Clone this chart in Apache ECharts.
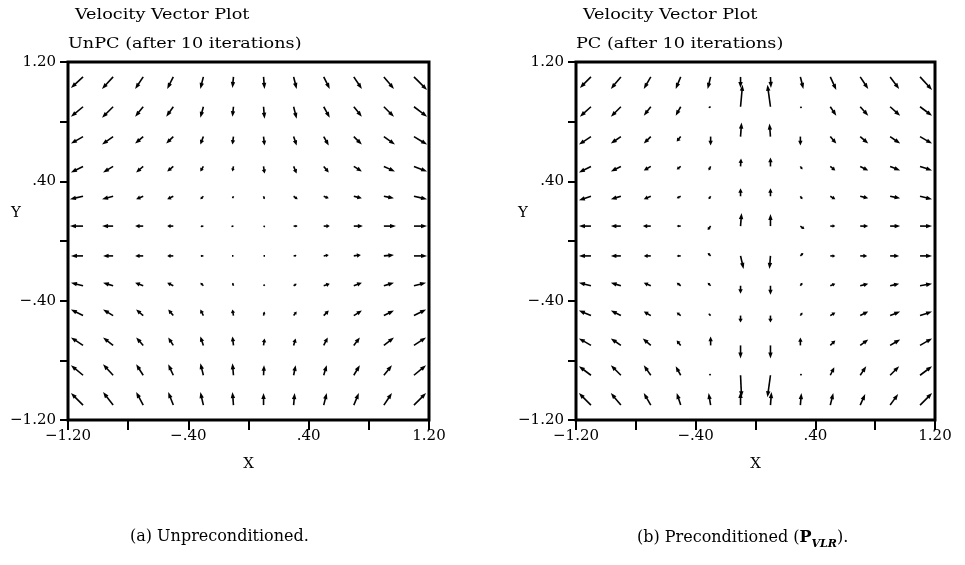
<!DOCTYPE html>
<html><head><meta charset="utf-8">
<script src="https://cdn.jsdelivr.net/npm/echarts@6/dist/echarts.min.js"></script>
<style>html,body{margin:0;padding:0;background:#fff}#c{width:965px;height:565px}</style>
</head><body><div id="c"></div>
<script>
// grid points (tails of the vectors)
const gridX = [-1.1,-0.9,-0.7,-0.5,-0.3,-0.1,0.1,0.3,0.5,0.7,0.9,1.1];
const gridY = [1.1,0.9,0.7,0.5,0.3,0.1,-0.1,-0.3,-0.5,-0.7,-0.9,-1.1];
// tick labels
const tickValues = [-1.2,-0.4,0.4,1.2];
const tickLabels = ['\u22121.20','\u2212.40','.40','1.20'];
// UnPC velocity components (rows top->bottom, cols left->right)
const unpcU = [
 [-12,-11,-8,-6,-3,-1,1,3,6,8,10,13],
 [-12,-11,-8,-7,-3,-1,1,3,6,8,10,13],
 [-12,-11,-8,-7,-3,-1,1,3,5,8,11,13],
 [-12,-10,-7,-6,-3,-1,1,3,5,8,11,13],
 [-13,-11,-7,-6,-3,-1,1,4,5,8,10,13],
 [-13,-11,-8,-6,-3,-2,1,4,6,9,12,13],
 [-12,-10,-8,-6,-3,-1,1,3,5,7,10,13],
 [-12,-10,-8,-6,-3,-1,1,3,6,8,10,12],
 [-12,-10,-7,-5,-3,-1,1,3,5,8,10,12],
 [-12,-10,-7,-5,-3,-1,1,2,4,6,10,12],
 [-12,-10,-7,-5,-3,-1,0.5,2,3,6,8,12],
 [-12,-10,-7,-5,-3,-1,0,1,3,5,8,12]
];
const unpcV = [
 [-11,-12,-12,-12,-12,-11,-12,-12,-12,-12,-12,-13],
 [-10,-11,-10,-10,-11,-10,-12,-12,-11,-10,-10,-10],
 [-7,-8,-7,-7,-8,-8,-9,-9,-9,-8,-8,-8],
 [-6,-6,-6,-5,-5,-5,-7,-7,-6,-5,-5,-5],
 [-3,-3,-3,-3,-3,-2,-3,-3,-2,-2,-2,-3],
 [0,0,0,0,-0.5,-0.5,-0.5,0,0,0,0,0],
 [0,0,0,0,0,0,0,0.5,1,1,1,0],
 [3,3,3,3,3,3,1,2,2,3,3,3],
 [6,6,6,6,6,6,4,4,5,5,5,6],
 [8,8,8,8,9,9,7,7,8,8,8,8],
 [10,11,11,11,12,12,10,10,10,10,10,10],
 [12,13,13,13,13,13,12,12,12,12,12,12]
];
// PC velocity components
const pcU = [
 [-11,-10,-7,-5,-3,0,0.5,3,6,8,9,12],
 [-11,-10,-7,-5,-2,2,-3,1,6,8,10,12],
 [-12,-10,-7,-4,0,1,-1,0,6,8,10,12],
 [-12,-10,-7,-4,-2,0.5,0,2,5,8,10,12],
 [-12,-10,-7,-4,-2,0,0,2,5,8,10,12],
 [-12,-10,-8,-4,-3,1,0,4,5,8,10,12],
 [-12,-10,-7,-4,-3,3,-1,3,5,7,9,12],
 [-12,-10,-7,-4,-3,0,0,2,5,8,9,12],
 [-12,-10,-7,-4,-2,0,0,2,5,8,10,12],
 [-12,-10,-8,-4,0,0,0,0,5,8,10,12],
 [-12,-10,-7,-5,-1,1,-3,1,4,6,9,12],
 [-12,-10,-7,-4,-2,0,1,1,3,5,8,12]
];
const pcV = [
 [-11,-12,-12,-12,-12,-11,-11,-12,-13,-12,-12,-13],
 [-10,-10,-9,-9,-1,22,22,-1,-9,-9,-9,-9],
 [-8,-7,-7,-5,-9,14,13,-9,-7,-7,-7,-7],
 [-6,-5,-4,-3,-4,8,9,-3,-4,-4,-4,-4],
 [-4,-3,-3,-2,-3,8,8,-3,-3,-2,-2,-3],
 [0,0,0,0,-4,13,12,-3,0,0,0,0],
 [0,0,0,0,3,-13,-13,3,0,0,0,0],
 [3,3,3,3,3,-8,-9,3,2,2,2,2],
 [5,5,4,3,2,-7,-7,3,3,4,4,4],
 [7,7,7,5,9,-13,-13,8,5,6,6,7],
 [9,10,10,9,1,-22,-22,1,8,9,9,9],
 [12,12,12,12,12,13,13,12,12,11,11,12]
];
const VEC_SCALE = 2.4/358; // data units per velocity unit

function buildData(U, V){
  const out = [];
  for (let r=0;r<gridY.length;r++) for (let c=0;c<gridX.length;c++)
    out.push([gridX[c], gridY[r], U[r][c], V[r][c]]);
  return out;
}
function renderArrow(params, api){
  const x = api.value(0), y = api.value(1), u = api.value(2), v = api.value(3);
  const p0 = api.coord([x, y]);
  const p1 = api.coord([x + u*VEC_SCALE, y + v*VEC_SCALE]);
  const dx = p1[0]-p0[0], dy = p1[1]-p0[1];
  const len = Math.sqrt(dx*dx+dy*dy);
  if (len < 0.3) return {type:'circle', shape:{cx:p0[0],cy:p0[1],r:1}, style:{fill:'#000'}};
  const ux = dx/len, uy = dy/len;
  const hl = Math.min(6, len*0.55), hw = Math.min(2.2, len*0.35);
  const bx = p1[0]-ux*hl, by = p1[1]-uy*hl;
  return {type:'group', children:[
    {type:'line', shape:{x1:p0[0],y1:p0[1],x2:bx+ux*1,y2:by+uy*1}, style:{stroke:'#000', lineWidth:1.6}},
    {type:'polygon', shape:{points:[[p1[0],p1[1]],[bx-uy*hw,by+ux*hw],[bx+uy*hw,by-ux*hw]]}, style:{fill:'#000'}}
  ]};
}
const FONT = 'DejaVu Serif';
function fmt(val){
  for (let i=0;i<tickValues.length;i++) if (Math.abs(val-tickValues[i])<1e-6) return tickLabels[i];
  return '';
}
function xAxisCfg(idx){
  return {gridIndex:idx, type:'value', min:-1.2, max:1.2, interval:0.4,
    name:'X', nameLocation:'middle', nameGap:37,
    nameTextStyle:{fontFamily:FONT, fontSize:15, color:'#000'},
    axisLine:{show:false, onZero:false}, splitLine:{show:false},
    axisTick:{show:true, inside:false, length:10, lineStyle:{color:'#000', width:2}},
    axisLabel:{interval:0, formatter:fmt, fontFamily:FONT, fontSize:15, color:'#000', margin:9}};
}
function yAxisCfg(idx){
  return {gridIndex:idx, type:'value', min:-1.2, max:1.2, interval:0.4,
    axisLine:{show:false, onZero:false}, splitLine:{show:false},
    axisTick:{show:true, inside:false, length:8, lineStyle:{color:'#000', width:2}},
    axisLabel:{interval:0, formatter:fmt, fontFamily:FONT, fontSize:15, color:'#000', margin:12}};
}
const titleFont = '14px "DejaVu Serif"';
const chart = echarts.init(document.getElementById('c'), null, {renderer:'canvas'});
chart.setOption({
  animation:false,
  backgroundColor:'#fff',
  grid:[
    {left:68, top:62, width:361, height:358, show:true, borderColor:'#000', borderWidth:3, backgroundColor:'transparent'},
    {left:576, top:62, width:359, height:358, show:true, borderColor:'#000', borderWidth:3, backgroundColor:'transparent'}
  ],
  xAxis:[xAxisCfg(0), xAxisCfg(1)],
  yAxis:[yAxisCfg(0), yAxisCfg(1)],
  graphic:[
    {type:'text', x:75, y:8, scaleX:1.26, style:{text:'Velocity Vector Plot', font:titleFont, fill:'#000'}},
    {type:'text', x:68, y:37, scaleX:1.26, style:{text:'UnPC (after 10 iterations)', font:titleFont, fill:'#000'}},
    {type:'text', x:583, y:8, scaleX:1.26, style:{text:'Velocity Vector Plot', font:titleFont, fill:'#000'}},
    {type:'text', x:576, y:37, scaleX:1.26, style:{text:'PC (after 10 iterations)', font:titleFont, fill:'#000'}},
    {type:'text', x:16, y:213, style:{text:'Y', font:'15px "DejaVu Serif"', fill:'#000', align:'center', verticalAlign:'middle'}},
    {type:'text', x:523, y:213, style:{text:'Y', font:'15px "DejaVu Serif"', fill:'#000', align:'center', verticalAlign:'middle'}},
    {type:'text', x:130, y:529, style:{text:'(a) Unpreconditioned.', font:'16px "DejaVu Serif"', fill:'#000'}},
    {type:'text', x:637, y:522, style:{
      text:'{n|(b) Preconditioned (}{p|P}{s|VLR}{n|).}',
      rich:{
        n:{fontFamily:FONT, fontSize:16, color:'#000', lineHeight:24, verticalAlign:'bottom'},
        p:{fontFamily:FONT, fontSize:16, fontWeight:'bold', color:'#000', lineHeight:24, verticalAlign:'bottom'},
        s:{fontFamily:FONT, fontSize:11, fontStyle:'italic', fontWeight:'bold', color:'#000', lineHeight:24, verticalAlign:'bottom', padding:[0,0,-4,0]}
      }}}
  ],
  series:[
    {type:'custom', xAxisIndex:0, yAxisIndex:0, clip:false, renderItem:renderArrow,
     encode:{x:0, y:1}, data:buildData(unpcU, unpcV)},
    {type:'custom', xAxisIndex:1, yAxisIndex:1, clip:false, renderItem:renderArrow,
     encode:{x:0, y:1}, data:buildData(pcU, pcV)}
  ]
});
</script></body></html>
